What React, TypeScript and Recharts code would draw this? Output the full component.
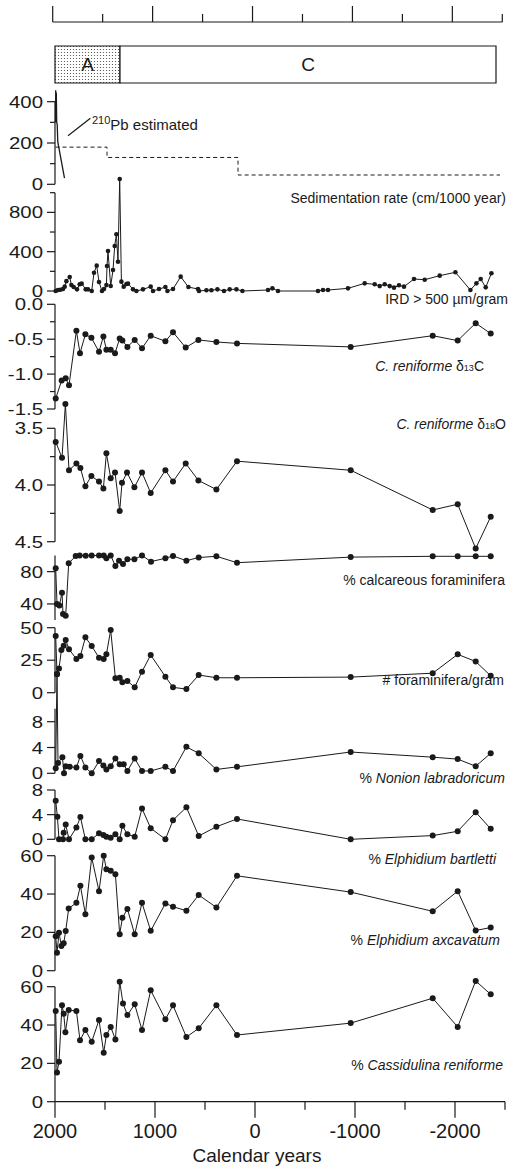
import React from "react";
import { LineChart, Line, XAxis, YAxis, ReferenceArea, ReferenceLine } from "recharts";

const W = 517;
const H = 1172;
const INK = "#1a1a1a";
const FONT = "'Liberation Sans', Arial, sans-serif";
const X_DOMAIN: [number, number] = [-2500, 2000];
const yearTicks = [2000, 1500, 1000, 500, 0, -500, -1000, -1500, -2000, -2500];
const yearLabels = [2000, 1000, 0, -1000, -2000];

type Pt = [number, number];

// sedimentation rate
const pb210: Pt[] = [[1994, 300], [1993, 455], [1989, 380], [1987, 445], [1983, 300], [1978, 290], [1972, 205], [1905, 30]];
const sedRate: Pt[] = [[1995, 180], [1480, 130], [170, 45], [-2450, 45]];

// IRD > 500 um/gram
const ird: Pt[] = [
  [1993, 0], [1970, 10], [1946, 13], [1920, 20], [1903, 44], [1886, 100], [1853, 142], [1836, 60], [1813, 40],
  [1780, 17], [1753, 68], [1733, 75], [1693, 17], [1670, 17], [1633, 0], [1610, 186], [1583, 258], [1560, 92],
  [1530, 0], [1510, 20], [1486, 60], [1480, 254], [1470, 407], [1443, 51], [1420, 213], [1403, 458], [1386, 577],
  [1370, 298], [1353, 1140], [1336, 95], [1313, 44], [1286, 71], [1270, 75], [1220, 17], [1186, 0], [1120, 17],
  [1043, 44], [1020, 0], [960, 20], [896, 40], [876, 0], [820, 20], [743, 146], [666, 40], [570, 20], [560, 0],
  [486, 8], [436, 8], [376, 17], [310, 0], [253, 17], [186, 17], [126, 0], [-130, 10], [-174, 27], [-230, 0],
  [-630, 0], [-680, 10], [-730, 10], [-930, 27], [-1097, 78], [-1197, 68], [-1247, 50], [-1297, 68], [-1347, 50],
  [-1390, 34], [-1440, 58], [-1490, 44], [-1590, 122], [-1697, 115], [-1847, 156], [-2004, 190], [-2154, 10],
  [-2214, 78], [-2257, 122], [-2307, 37], [-2364, 180],
];

const d13c: Pt[] = [
  [1993, -1.35], [1933, -1.09], [1893, -1.06], [1860, -1.16], [1786, -0.38], [1750, -0.7], [1696, -0.43],
  [1636, -0.48], [1560, -0.68], [1516, -0.46], [1486, -0.65], [1443, -0.65], [1400, -0.7], [1353, -0.49],
  [1326, -0.52], [1276, -0.61], [1203, -0.51], [1130, -0.63], [1043, -0.45], [896, -0.53], [820, -0.4],
  [693, -0.62], [566, -0.51], [386, -0.54], [180, -0.56], [-957, -0.61], [-1777, -0.45], [-2027, -0.52],
  [-2207, -0.27], [-2357, -0.42],
];

const d18o: Pt[] = [
  [1993, 3.62], [1930, 3.76], [1896, 3.285], [1860, 3.87], [1786, 3.81], [1746, 3.85], [1696, 4.01],
  [1636, 3.92], [1560, 3.97], [1516, 4.03], [1486, 3.72], [1443, 3.94], [1400, 3.89], [1353, 4.23],
  [1330, 3.98], [1280, 3.89], [1206, 4.02], [1130, 3.89], [1043, 4.07], [896, 3.87], [820, 3.97],
  [693, 3.81], [566, 3.96], [386, 4.04], [180, 3.79], [-957, 3.87], [-1777, 4.22], [-2027, 4.17],
  [-2207, 4.56], [-2357, 4.28],
];

const calcareous: Pt[] = [
  [1993, 84.2], [1980, 40], [1956, 38], [1930, 54], [1920, 27.6], [1893, 25.5], [1863, 90.4], [1793, 99.4],
  [1753, 100], [1693, 99.8], [1633, 100], [1560, 100], [1513, 100], [1486, 96.6], [1443, 100], [1396, 87],
  [1360, 93.6], [1320, 89.5], [1276, 95.3], [1206, 95.3], [1130, 100], [1040, 92.4], [896, 96.6], [820, 99.4],
  [686, 93.6], [563, 97.5], [386, 99], [180, 91.1], [-957, 98], [-1777, 99], [-2027, 99], [-2207, 99], [-2357, 99],
];

const foramPerGram: Pt[] = [
  [1993, 43.6], [1980, 14.1], [1960, 18.7], [1936, 32.8], [1913, 36.2], [1893, 40.5], [1860, 33.4], [1786, 25.9],
  [1746, 28.2], [1696, 42.6], [1633, 35.9], [1560, 26.9], [1513, 25.9], [1486, 29.5], [1443, 48.2], [1396, 11.1],
  [1353, 11.5], [1326, 8], [1276, 9], [1203, 4.1], [1130, 16.2], [1043, 29], [896, 12.3], [820, 4.1], [686, 2.8],
  [563, 13.6], [386, 11.5], [180, 11.5], [-957, 12], [-1777, 15], [-2027, 29.5], [-2207, 24], [-2357, 13],
];

const nonion: Pt[] = [
  [1993, 0.78], [1980, 15.4], [1970, 1.6], [1926, 2.5], [1910, 0], [1893, 1.1], [1853, 1.0], [1786, 0.9],
  [1746, 2.7], [1696, 0.9], [1633, 0], [1560, 1.9], [1516, 1.2], [1486, 0.6], [1443, 1.1], [1396, 2.3],
  [1353, 1.4], [1313, 1.4], [1276, 0.36], [1203, 2.3], [1130, 0.36], [1043, 0.36], [896, 1.0], [820, 0.36],
  [686, 4.1], [563, 3.1], [386, 0.6], [180, 1.0], [-957, 3.3], [-1777, 2.5], [-2027, 2.2], [-2207, 1.1], [-2357, 3.1],
];

const bartletti: Pt[] = [
  [1993, 6.26], [1976, 3.66], [1960, 0], [1920, 0], [1913, 1.07], [1893, 2.4], [1860, 0], [1786, 1.9],
  [1746, 3.6], [1696, 0], [1633, 0], [1560, 0.97], [1516, 0.7], [1486, 0.43], [1443, 0.27], [1396, 0.8],
  [1353, 0], [1326, 2.2], [1276, 0.8], [1203, 0.43], [1130, 5.0], [1043, 1.8], [896, 0], [820, 3.1],
  [686, 5.2], [563, 0.54], [386, 2.04], [180, 3.3], [-957, 0], [-1777, 0.6], [-2027, 1.3], [-2207, 4.4], [-2357, 1.7],
];

const excavatum: Pt[] = [
  [1993, 18], [1980, 9.4], [1960, 19.8], [1936, 12.9], [1913, 14.3], [1893, 20.7], [1863, 32.5], [1786, 35.4],
  [1746, 44.3], [1696, 29.5], [1633, 59.1], [1560, 41.5], [1513, 60], [1486, 52.9], [1443, 52.1], [1396, 50.3],
  [1353, 19], [1326, 27.6], [1276, 32.2], [1203, 19], [1130, 35.4], [1043, 20.8], [896, 35.1], [820, 33.4],
  [686, 31.3], [563, 39.5], [386, 33], [180, 49.5], [-957, 41], [-1777, 31], [-2027, 41.5], [-2207, 21], [-2357, 22.5],
];

const cassidulina: Pt[] = [
  [1993, 47.3], [1980, 15.2], [1960, 20.9], [1930, 50.3], [1913, 45.9], [1896, 36.3], [1863, 47.8], [1786, 47.3],
  [1750, 32], [1696, 37.4], [1633, 31.3], [1560, 42.6], [1513, 25.6], [1486, 34.8], [1443, 39], [1396, 32.5],
  [1353, 62.6], [1320, 51.3], [1276, 45.2], [1203, 50.8], [1130, 37.4], [1043, 58.1], [896, 43], [820, 50.3],
  [686, 33.7], [563, 38.3], [386, 50.3], [180, 34.8], [-957, 41], [-1777, 54], [-2027, 39], [-2207, 63], [-2357, 56],
];

const frame = [{ year: 2000, v: 0 }, { year: -2500, v: 1 }];
const rows = (pts: Pt[]) => pts.map(([year, v]) => ({ year, v }));

function YTick(props: any) {
  const { x, y, payload, labels, digits } = props;
  const major = labels.includes(payload.value);
  return (
    <g>
      <line x1={x - (major ? 8 : 5)} x2={x} y1={y} y2={y} stroke={INK} strokeWidth={1.2} />
      {major && (
        <text transform={`translate(${x - 12},${y}) scale(1.2,1)`} dy="0.36em" textAnchor="end"
          fontSize={17} fontFamily={FONT} fill={INK}>
          {payload.value.toFixed(digits)}
        </text>
      )}
    </g>
  );
}

function XTick(props: any) {
  const { x, y, payload, up } = props;
  const major = yearLabels.includes(payload.value);
  const len = major ? 16 : 8;
  if (up) return <line x1={x} x2={x} y1={y} y2={y - len} stroke={INK} strokeWidth={1.2} />;
  return (
    <g>
      <line x1={x} x2={x} y1={y} y2={y + len} stroke={INK} strokeWidth={1.2} />
      {major && (
        <text x={x} y={y + 36} textAnchor="middle" fontSize={20} fontFamily={FONT} fill={INK}>
          {payload.value}
        </text>
      )}
    </g>
  );
}

type Series = { data: Pt[]; dot?: number; dash?: string; step?: boolean; width?: number };

function Panel({
  series, top, bottom, domain, ticks, labels, digits = 0, reversed = false, xAxis = false, children,
}: {
  series: Series[]; top: number; bottom: number; domain: [number, number]; ticks: number[]; labels: number[];
  digits?: number; reversed?: boolean; xAxis?: boolean; children?: React.ReactNode;
}) {
  return (
    <div style={{ position: "absolute", left: 0, top: 0 }}>
      <LineChart width={W} height={H} margin={{ top, bottom: H - bottom - (xAxis ? 60 : 0), left: 15, right: 12 }}>
        <XAxis
          dataKey="year" type="number" domain={X_DOMAIN} reversed allowDataOverflow hide={!xAxis}
          ticks={yearTicks} interval={0} height={60} tickSize={0} tickMargin={0}
          tickLine={false} axisLine={{ stroke: INK, strokeWidth: 1.2 }} tick={<XTick />}
        />
        <YAxis
          type="number" domain={domain} ticks={ticks} interval={0} reversed={reversed} allowDataOverflow width={40}
          tickSize={0} tickMargin={0} tickLine={false} axisLine={{ stroke: INK, strokeWidth: 1.2 }}
          tick={<YTick labels={labels} digits={digits} />}
        />
        {children}
        {series.map((s, i) => (
          <Line
            key={i} data={rows(s.data)} dataKey="v" type={s.step ? "stepAfter" : "linear"}
            stroke={INK} strokeWidth={s.width ?? 1} strokeDasharray={s.dash}
            dot={s.dot ? { r: s.dot, fill: INK, stroke: "none" } : false}
            isAnimationActive={false}
          />
        ))}
      </LineChart>
    </div>
  );
}

export default function App() {
  return (
    <div style={{ position: "absolute", left: 0, top: 0, width: W, height: H, background: "#fff" }}>
      <style>{"svg [clip-path]{clip-path:none !important}"}</style>

      {/* top axis */}
      <div style={{ position: "absolute", left: 0, top: 0 }}>
        <LineChart width={W} height={H} data={frame} margin={{ top: 2, bottom: H - 80, left: 52.7, right: 14.7 }}>
          <XAxis
            dataKey="year" type="number" domain={X_DOMAIN} reversed orientation="top" ticks={yearTicks} interval={0}
            height={20} tickSize={0} tickMargin={0} tickLine={false} axisLine={{ stroke: INK, strokeWidth: 1.2 }}
            tick={<XTick up />}
          />
          <YAxis hide type="number" domain={[0, 1]} />
          <Line dataKey="v" stroke="none" dot={false} isAnimationActive={false} />
        </LineChart>
      </div>

      {/* zones */}
      <div style={{ position: "absolute", left: 0, top: 0 }}>
        <LineChart width={W} height={H} data={frame} margin={{ top: 46, bottom: H - 83, left: 55, right: 12 }}>
          <defs>
            <pattern id="stipple" width="3" height="3" patternUnits="userSpaceOnUse">
              <rect width="3" height="3" fill="#fff" />
              <circle cx="1.5" cy="1.5" r="0.6" fill="#444" />
            </pattern>
          </defs>
          <XAxis dataKey="year" type="number" domain={X_DOMAIN} reversed hide />
          <YAxis hide type="number" domain={[0, 1]} />
          <Line dataKey="v" stroke="none" dot={false} isAnimationActive={false} />
          <ReferenceArea x1={2000} x2={1350} y1={0} y2={1} fill="url(#stipple)" fillOpacity={1} stroke={INK} strokeWidth={1.2}
            label={{ value: "A", position: "center", fontSize: 19, fontFamily: FONT, fill: INK }} />
          <ReferenceArea x1={1350} x2={-2410} y1={0} y2={1} fill="#fff" fillOpacity={1} stroke={INK} strokeWidth={1.2}
            label={{ value: "C", position: "center", fontSize: 19, fontFamily: FONT, fill: INK }} />
        </LineChart>
      </div>

      <Panel top={101.7} bottom={184.3} domain={[0, 400]} ticks={[0, 100, 200, 300, 400]} labels={[0, 200, 400]}
        series={[{ data: pb210, width: 1.3 }, { data: sedRate, dash: "4 3", step: true }]}>
        <ReferenceLine segment={[{ x: 1870, y: 235 }, { x: 1646, y: 320 }]} stroke={INK} strokeWidth={1.2} />
      </Panel>
      <Panel top={192.7} bottom={291} domain={[0, 1000]} ticks={[0, 200, 400, 600, 800, 1000]} labels={[0, 400, 800]}
        series={[{ data: ird, dot: 2.3 }]} />
      <Panel top={304.3} bottom={409} domain={[-1.5, 0]} ticks={[-1.5, -1.25, -1, -0.75, -0.5, -0.25, 0]}
        labels={[-1.5, -1, -0.5, 0]} digits={1} series={[{ data: d13c, dot: 3 }]} />
      <Panel top={428.3} bottom={541.7} domain={[3.5, 4.5]} reversed ticks={[3.5, 3.75, 4, 4.25, 4.5]}
        labels={[3.5, 4, 4.5]} digits={1} series={[{ data: d18o, dot: 3 }]} />
      <Panel top={555.5} bottom={620.1} domain={[20, 100]} ticks={[40, 80]} labels={[40, 80]}
        series={[{ data: calcareous, dot: 3 }]} />
      <Panel top={627.7} bottom={692.7} domain={[0, 50]} ticks={[0, 25, 50]} labels={[0, 25, 50]}
        series={[{ data: foramPerGram, dot: 3 }]} />
      <Panel top={708.8} bottom={773.3} domain={[0, 10]} ticks={[0, 4, 8]} labels={[0, 4, 8]}
        series={[{ data: nonion, dot: 3 }]} />
      <Panel top={790} bottom={839.3} domain={[0, 8]} ticks={[0, 4, 8]} labels={[0, 4, 8]}
        series={[{ data: bartletti, dot: 3 }]} />
      <Panel top={855.7} bottom={970.7} domain={[0, 60]} ticks={[0, 20, 40, 60]} labels={[0, 20, 40, 60]}
        series={[{ data: excavatum, dot: 3 }]} />
      <Panel top={986.7} bottom={1101.7} domain={[0, 60]} ticks={[0, 20, 40, 60]} labels={[0, 20, 40, 60]}
        series={[{ data: cassidulina, dot: 3 }]} xAxis />

      <svg width={W} height={H} style={{ position: "absolute", left: 0, top: 0, pointerEvents: "none" }}
        fontFamily={FONT} fill={INK}>
        <text x={92} y={130} fontSize={15}>
          <tspan fontSize={11} dy={-6}>210</tspan>
          <tspan dy={6}>Pb  estimated</tspan>
        </text>
        <text x={506} y={203} fontSize={14} textAnchor="end">Sedimentation rate (cm/1000 year)</text>
        <text x={508} y={304} fontSize={14} textAnchor="end">IRD &gt; 500 µm/gram</text>
        <text x={484} y={371} fontSize={14} textAnchor="end">
          <tspan fontStyle="italic">C. reniforme </tspan>δ<tspan fontSize={9}>13</tspan>C
        </text>
        <text x={506} y={429} fontSize={14} textAnchor="end">
          <tspan fontStyle="italic">C. reniforme </tspan>δ<tspan fontSize={9}>18</tspan>O
        </text>
        <text x={505} y={585} fontSize={14} textAnchor="end">% calcareous foraminifera</text>
        <text x={504} y={685} fontSize={14} textAnchor="end"># foraminifera/gram</text>
        <text x={505} y={783} fontSize={14} textAnchor="end">% <tspan fontStyle="italic">Nonion labradoricum</tspan></text>
        <text x={496} y={864} fontSize={14} textAnchor="end">% <tspan fontStyle="italic">Elphidium bartletti</tspan></text>
        <text x={500} y={945} fontSize={14} textAnchor="end">% <tspan fontStyle="italic">Elphidium axcavatum</tspan></text>
        <text x={503} y={1070} fontSize={14} textAnchor="end">% <tspan fontStyle="italic">Cassidulina reniforme</tspan></text>
        <text x={257} y={1162} fontSize={19} textAnchor="middle">Calendar years</text>
      </svg>
    </div>
  );
}
